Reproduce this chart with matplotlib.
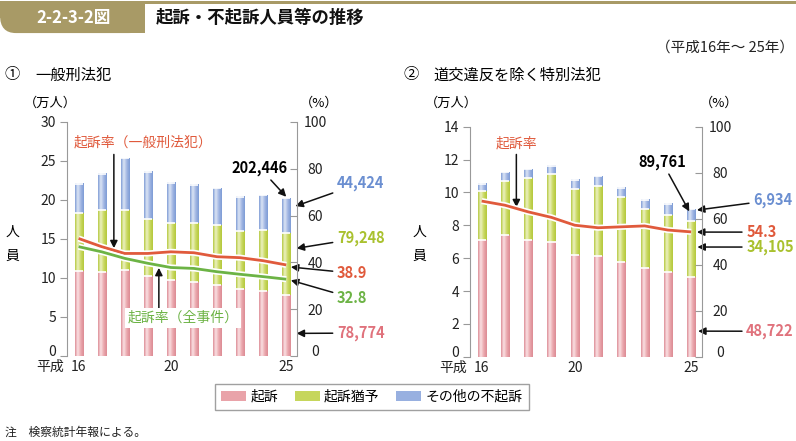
import numpy as np
import matplotlib.pyplot as plt
from matplotlib.colors import LinearSegmentedColormap
from matplotlib.patches import Patch, FancyBboxPatch, Rectangle
import matplotlib.patheffects as pe
import matplotlib.transforms as mtransforms

plt.rcParams['font.family'] = ['Noto Sans CJK JP', 'DejaVu Sans']

years = np.arange(16, 26)

# ① 一般刑法犯 (万人)
gen_kiso = [10.93, 10.80, 11.01, 10.24, 9.73, 9.52, 9.05, 8.54, 8.32, 7.8774]
gen_yuyo = [7.34, 7.89, 7.68, 7.30, 7.26, 7.47, 7.68, 7.46, 7.81, 7.9248]
gen_other = [3.75, 4.66, 6.62, 6.06, 5.20, 4.95, 4.74, 4.40, 4.48, 4.4424]
gen_rate = [50.2, 46.7, 43.8, 43.8, 44.5, 44.1, 42.4, 42.0, 40.7, 38.9]   # 起訴率（一般刑法犯）
all_rate = [46.7, 44.5, 41.7, 39.6, 37.8, 37.4, 36.0, 34.9, 33.9, 32.8]   # 起訴率（全事件）

# ② 道交違反を除く特別法犯 (万人)
sp_kiso = [7.10, 7.40, 7.10, 7.00, 6.17, 6.13, 5.78, 5.38, 5.13, 4.8722]
sp_yuyo = [2.98, 3.33, 3.77, 4.10, 4.07, 4.28, 3.92, 3.59, 3.53, 3.4105]
sp_other = [0.43, 0.51, 0.53, 0.52, 0.55, 0.58, 0.60, 0.56, 0.67, 0.6934]
sp_rate = [67.7, 65.9, 63.0, 60.6, 57.2, 56.1, 56.5, 56.9, 55.1, 54.3]

seg_names = ['起訴', '起訴猶予', 'その他の不起訴']

# gradient maps for the bars (dark edge, light stripe, mid, dark edge)
cm_pink = LinearSegmentedColormap.from_list('p', [(0, '#dc8a93'), (0.3, '#fbe4e6'), (0.65, '#eba8ae'), (1, '#dc8a93')])
cm_green = LinearSegmentedColormap.from_list('g', [(0, '#b3c73a'), (0.3, '#eef3c6'), (0.65, '#cbd963'), (1, '#b3c73a')])
cm_blue = LinearSegmentedColormap.from_list('b', [(0, '#7c9ad5'), (0.3, '#dfe7f6'), (0.65, '#a2b7e3'), (1, '#7c9ad5')])
seg_cmaps = [cm_pink, cm_green, cm_blue]
legend_cols = ['#e9a3a9', '#c6d65c', '#98b0e0']

RED = '#e05a3c'
GREEN = '#6cb345'
BLUE_T = '#6b8fd1'
YG_T = '#a9c12e'
PINK_T = '#e0727c'

grad = np.linspace(0, 1, 64).reshape(1, -1)
W = 0.35
XLIM = (15.5, 25.47)


def lift_zero(axis, fig):
    # the "0" label sits a little above its tick, clear of the year labels
    lab = axis.get_major_ticks()[0]
    shift = mtransforms.ScaledTranslation(0, 4 / 72, fig.dpi_scale_trans)
    for t in (lab.label1, lab.label2):
        t.set_transform(t.get_transform() + shift)


def draw_bars(ax, segs, ymax, ystep):
    bottom = np.zeros(len(years))
    for vals, cm in zip(segs, seg_cmaps):
        vals = np.asarray(vals)
        for x, b, h in zip(years, bottom, vals):
            ax.imshow(grad, extent=[x - W / 2, x + W / 2, b, b + h], aspect='auto',
                      cmap=cm, interpolation='bicubic', zorder=2)
        bottom = bottom + vals
        # white gap on top of each segment
        ax.hlines(bottom, years - W / 2, years + W / 2, colors='white', lw=1.2, zorder=3)
    ax.set_xlim(*XLIM)
    ax.set_ylim(0, ymax)
    ax.set_yticks(np.arange(0, ymax + 0.01, ystep))
    ax.set_xticks([16, 20, 25])
    ax.set_xticklabels(['16', '20', '25'])
    for s in ['top', 'right', 'bottom']:
        ax.spines[s].set_visible(False)
    ax.spines['left'].set_color('#999999')
    ax.tick_params(axis='y', direction='out', length=5, color='#999999', labelsize=10, labelcolor='#222222', pad=3)
    ax.tick_params(axis='x', length=0, labelsize=10, labelcolor='#222222', pad=3)
    ax.annotate('平成', xy=(16, 0), xycoords=('data', 'axes fraction'), xytext=(-10.5, -3),
                textcoords='offset points', ha='right', va='top', fontsize=10, color='#222222')
    ax.set_facecolor('none')
    lift_zero(ax.yaxis, ax.figure)

    ax2 = ax.twinx()
    ax2.set_ylim(0, 100)
    ax2.set_yticks(np.arange(0, 101, 20))
    for s in ['top', 'left', 'bottom']:
        ax2.spines[s].set_visible(False)
    ax2.spines['right'].set_color('#999999')
    ax2.tick_params(axis='y', direction='in', length=5, color='#999999', labelsize=10,
                    labelcolor='#222222', pad=13)
    for lab in ax2.get_yticklabels():
        lab.set_horizontalalignment('center')
    lift_zero(ax2.yaxis, ax.figure)
    return ax2


def rate_line(ax2, vals, color):
    ax2.plot(years, vals, color=color, lw=2.0, solid_capstyle='butt', zorder=4,
             path_effects=[pe.Stroke(linewidth=4.4, foreground='white'), pe.Normal()])


fig = plt.figure(figsize=(7.96, 4.41), dpi=100)

# header
fig.add_artist(Rectangle((0, 0.992), 1, 0.006, transform=fig.transFigure, color='#a89a66', lw=0))
fig.add_artist(FancyBboxPatch((0.0, 0.925), 0.182, 0.07, boxstyle='round,pad=0,rounding_size=0.02',
                              transform=fig.transFigure, color='#a89a66', lw=0, mutation_aspect=2))
fig.add_artist(Rectangle((0.02, 0.925), 0.162, 0.07, transform=fig.transFigure, color='#a89a66', lw=0))
fig.add_artist(Rectangle((0.0, 0.96), 0.182, 0.035, transform=fig.transFigure, color='#a89a66', lw=0))
fig.text(0.092, 0.96, '2-2-3-2図', color='white', fontsize=12, fontweight='bold', ha='center', va='center')
fig.text(0.196, 0.96, '起訴・不起訴人員等の推移', color='#111111', fontsize=12.5, fontweight='bold',
         ha='left', va='center')
fig.text(0.997, 0.893, '（平成16年～ 25年）', fontsize=10.5, ha='right', va='center', color='#222222')

fig.text(0.006, 0.83, '①', fontsize=11, ha='left', va='center')
fig.text(0.044, 0.83, '一般刑法犯', fontsize=11, ha='left', va='center')
fig.text(0.507, 0.83, '②', fontsize=11, ha='left', va='center')
fig.text(0.545, 0.83, '道交違反を除く特別法犯', fontsize=11, ha='left', va='center')

# ---------- panel 1
ax1 = fig.add_axes([0.0842, 0.1927, 0.289, 0.531])
ax1r = draw_bars(ax1, [gen_kiso, gen_yuyo, gen_other], 30, 5)
rate_line(ax1r, gen_rate, RED)
rate_line(ax1r, all_rate, GREEN)

fig.text(0.063, 0.765, '（万人）', fontsize=9.5, ha='center', va='center')
fig.text(0.401, 0.765, '（%）', fontsize=9.5, ha='center', va='center')
fig.text(0.016, 0.474, '人', fontsize=10, ha='center', va='center')
fig.text(0.016, 0.42, '員', fontsize=10, ha='center', va='center')

arr = dict(arrowstyle='-|>', color='#111111', lw=1.1, mutation_scale=11, shrinkA=1, shrinkB=0)
ax1.text(0.33, 0.913, '起訴率（一般刑法犯）', transform=ax1.transAxes, color=RED, fontsize=10,
         ha='center', va='center')
ax1.annotate('', xy=(17.53, 13.8), xytext=(17.53, 26.0), arrowprops=arr, zorder=5)
ax1.text(20.52, 4.87, '起訴率（全事件）', color=GREEN, fontsize=10, ha='center', va='center', zorder=6,
         bbox=dict(facecolor='white', edgecolor='none', pad=2))
ax1.annotate('', xy=(19.48, 11.3), xytext=(19.48, 5.9), arrowprops=arr, zorder=5)

ax1.annotate('202,446', xy=(25.0, 20.4), xytext=(0.839, 0.802), textcoords='axes fraction',
             fontsize=10.5, fontweight='bold', ha='center', va='center', arrowprops=arr, annotation_clip=False)
labs1 = [('44,424', BLUE_T, 25.4, 19.2, 0.738), ('79,248', YG_T, 25.45, 13.8, 0.504),
         ('38.9', RED, 25.2, 11.4, 0.354), ('32.8', GREEN, 25.2, 9.7, 0.248),
         ('78,774', PINK_T, 25.45, 2.9, 0.098)]
for t, c, x, y, fy in labs1:
    ax1.annotate(t, xy=(x, y), xytext=(1.173, fy), textcoords='axes fraction', color=c,
                 fontsize=10.5, fontweight='bold', ha='left', va='center', arrowprops=arr,
                 annotation_clip=False)

# ---------- panel 2
ax2 = fig.add_axes([0.5905, 0.191, 0.2915, 0.5215])
ax2r = draw_bars(ax2, [sp_kiso, sp_yuyo, sp_other], 14, 2)
rate_line(ax2r, sp_rate, RED)

fig.text(0.567, 0.765, '（万人）', fontsize=9.5, ha='center', va='center')
fig.text(0.903, 0.765, '（%）', fontsize=9.5, ha='center', va='center')
fig.text(0.527, 0.474, '人', fontsize=10, ha='center', va='center')
fig.text(0.527, 0.42, '員', fontsize=10, ha='center', va='center')

ax2.text(17.49, 13.0, '起訴率', color=RED, fontsize=10, ha='center', va='center')
ax2.annotate('', xy=(17.49, 9.1), xytext=(17.49, 12.4), arrowprops=arr, zorder=5)
ax2.annotate('89,761', xy=(24.92, 8.85), xytext=(23.76, 11.85), fontsize=10.5, fontweight='bold',
             ha='center', va='center', arrowprops=arr, annotation_clip=False)
labs2 = [('6,934', BLUE_T, 25.25, 8.93, 0.681, 1.22), ('54.3', RED, 25.25, 7.59, 0.542, 1.19),
         ('34,105', YG_T, 25.27, 6.68, 0.477, 1.19), ('48,722', PINK_T, 25.3, 1.56, 0.111, 1.19)]
for t, c, x, y, fy, fx in labs2:
    ax2.annotate(t, xy=(x, y), xytext=(fx, fy), textcoords='axes fraction', color=c,
                 fontsize=10.5, fontweight='bold', ha='left', va='center', arrowprops=arr,
                 annotation_clip=False)

# legend
handles = [Patch(facecolor=c, edgecolor='none', label=n) for c, n in zip(legend_cols, seg_names)]
fig.legend(handles=handles, loc='center', bbox_to_anchor=(0.467, 0.1), ncol=3, fontsize=10,
           frameon=True, fancybox=False, edgecolor='#888888', handlelength=1.8, handleheight=0.8,
           handletextpad=0.3, columnspacing=1.2, borderpad=0.45)

fig.text(0.006, 0.02, '注　検察統計年報による。', fontsize=8.5, ha='left', va='center', color='#222222')

fig.savefig('out.png', dpi=100)
